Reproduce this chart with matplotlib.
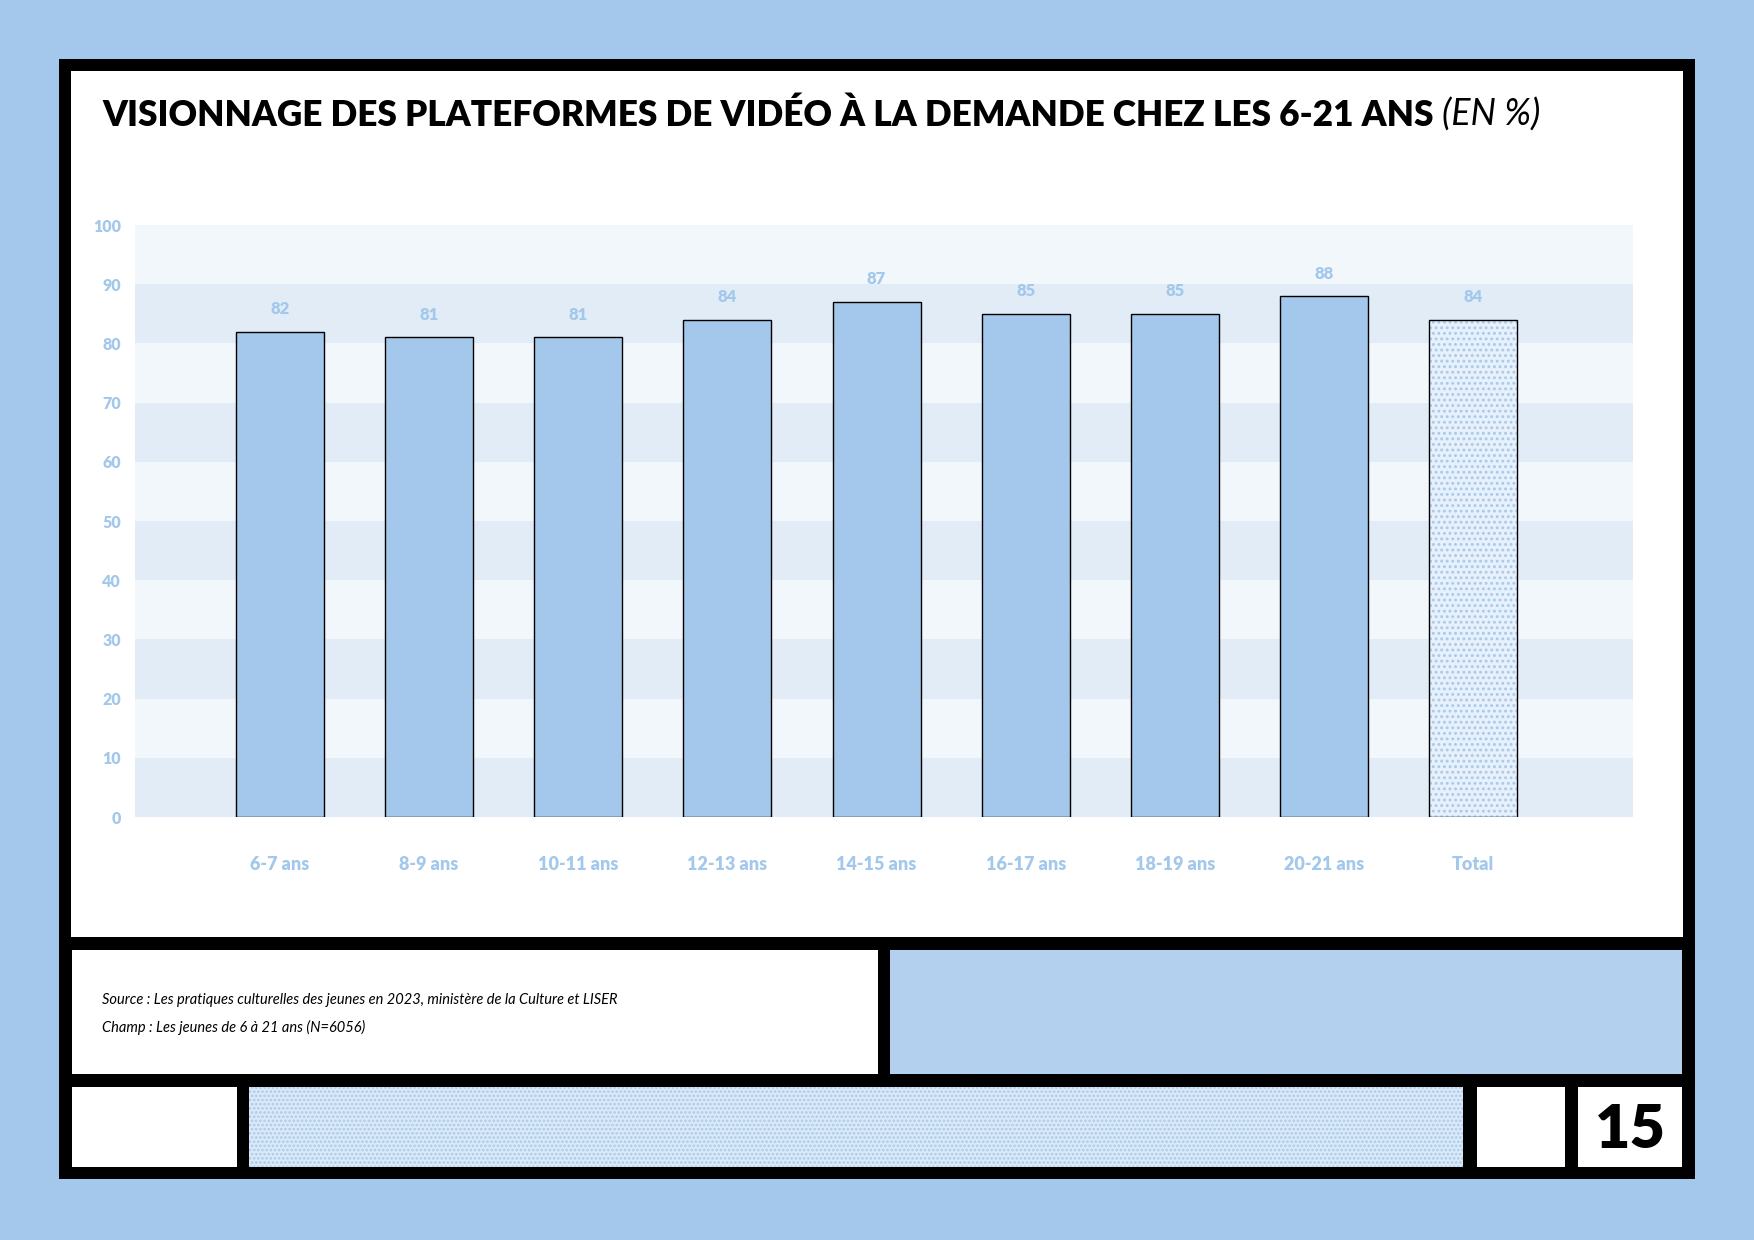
import numpy as np
import matplotlib
matplotlib.use("Agg")
import matplotlib.pyplot as plt
from matplotlib.patches import Rectangle

# --- data ---
categories = ["6-7 ans", "8-9 ans", "10-11 ans", "12-13 ans", "14-15 ans",
              "16-17 ans", "18-19 ans", "20-21 ans", "Total"]
values = [82, 81, 81, 84, 87, 85, 85, 88, 84]
y_ticks = list(range(0, 101, 10))

title_main = "VISIONNAGE DES PLATEFORMES DE VIDÉO À LA DEMANDE CHEZ LES 6-21 ANS"
title_unit = "(EN %)"
source_lines = [
    "Source : Les pratiques culturelles des jeunes en 2023, ministère de la Culture et LISER",
    "Champ : Les jeunes de 6 à 21 ans (N=6056)",
]
page_number = "15"

BG = "#A3C8EB"
BAR = "#A3C8EB"
PALE = "#E8F1FB"
STRIPE_LIGHT = "#F2F7FC"
STRIPE_DARK = "#E1ECF7"
PANEL_BLUE = "#B3D1EE"
LABEL = "#A3C8EB"

W, H = 1754, 1240
plt.rcParams["font.family"] = ["Lato", "DejaVu Sans"]
plt.rcParams["hatch.linewidth"] = 1.3

fig = plt.figure(figsize=(W / 100, H / 100), dpi=100, facecolor=BG)


def box(x0, y0, x1, y1, **kw):
    """Rectangle in pixel coords measured from the top-left corner."""
    r = Rectangle((x0 / W, 1 - y1 / H), (x1 - x0) / W, (y1 - y0) / H,
                  transform=fig.transFigure, zorder=-5, **kw)
    fig.patches.append(r)
    return r


# --- page frame ---
box(59, 59, 1695, 1179, facecolor="black", linewidth=0)
box(71, 71, 1683, 937, facecolor="white", linewidth=0)
box(72, 950, 878, 1074, facecolor="white", linewidth=0)
box(890, 950, 1682, 1074, facecolor=PANEL_BLUE, linewidth=0)
box(72, 1087, 237, 1167, facecolor="white", linewidth=0)
box(249, 1087, 1463, 1167, facecolor="#DCEAF8", edgecolor="#A9CBEC",
    hatch="....", linewidth=0)
box(1477, 1087, 1565, 1167, facecolor="white", linewidth=0)
box(1578, 1087, 1682, 1167, facecolor="white", linewidth=0)

# --- chart ---
ax_l, ax_r, ax_t, ax_b = 135, 1633, 225, 817
ax = fig.add_axes([ax_l / W, 1 - ax_b / H, (ax_r - ax_l) / W, (ax_b - ax_t) / H])
ax.set_zorder(5)
ax.set_facecolor("white")

for i, lo in enumerate(y_ticks[:-1]):
    ax.axhspan(lo, y_ticks[i + 1], color=STRIPE_DARK if i % 2 == 0 else STRIPE_LIGHT,
               linewidth=0, zorder=0)

x = np.arange(len(categories))
ax.bar(x[:-1], values[:-1], width=0.59, color=BAR, edgecolor="black",
       linewidth=1.0, zorder=2)
ax.bar(x[-1:], values[-1:], width=0.59, color=PALE, edgecolor="#A6CAEC",
       hatch="...", linewidth=0, zorder=2)
ax.bar(x[-1:], values[-1:], width=0.59, fill=False, edgecolor="black",
       linewidth=1.0, zorder=3)

for xi, v in zip(x, values):
    ax.text(xi, v + 3.8, str(v), ha="center", va="center", color=LABEL,
            fontsize=12, fontweight="heavy")

ax.set_xlim(-0.97, 9.07)
ax.set_ylim(0, 100)
ax.set_yticks(y_ticks)
ax.set_yticklabels([str(t) for t in y_ticks], color=LABEL, fontsize=11.5,
                   fontweight="heavy")
ax.set_xticks(x)
ax.set_xticklabels(categories, color=LABEL, fontsize=13, fontweight="heavy")
ax.tick_params(axis="both", length=0)
ax.tick_params(axis="y", pad=10)
ax.tick_params(axis="x", pad=28)
for s in ax.spines.values():
    s.set_visible(False)

# --- titles and notes ---
t1 = fig.text(102 / W, 1 - 115 / H, title_main, ha="left", va="center",
              fontsize=27, fontweight="heavy", color="black")
fig.canvas.draw()
renderer = fig.canvas.get_renderer()
bb = t1.get_window_extent(renderer)
t1.set_fontsize(27 * 1332 / bb.width)
fig.canvas.draw()
bb = t1.get_window_extent(renderer)
fig.text((bb.x1 + 8) / W, 1 - 115 / H, title_unit, ha="left", va="center",
         fontsize=t1.get_fontsize() * 1.02, fontstyle="italic",
         fontweight="normal", color="black")

fig.text(102 / W, 1 - 1000 / H, source_lines[0], ha="left", va="center",
         fontsize=10.5, fontstyle="italic", color="black")
fig.text(102 / W, 1 - 1027 / H, source_lines[1], ha="left", va="center",
         fontsize=10.5, fontstyle="italic", color="black")

fig.text(1630 / W, 1 - 1130 / H, page_number, ha="center", va="center",
         fontsize=44, fontweight="heavy", color="black")

fig.savefig("out.png", dpi=100, facecolor=BG)
